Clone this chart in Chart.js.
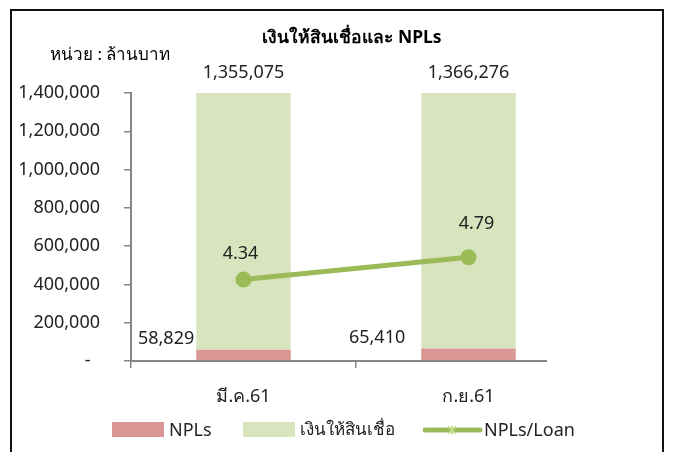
<!DOCTYPE html>
<html>
<head>
<meta charset="utf-8">
<script src="https://cdn.jsdelivr.net/npm/chart.js@4.4.1/dist/chart.umd.min.js"></script>
<style>
  html, body { margin: 0; padding: 0; background: #fff; overflow: hidden; }
  #wrap { position: relative; width: 673px; height: 452px; }
  #frame { position: absolute; left: 10px; top: 9px; width: 650px; height: 460px; border: 2px solid #111; }
  #chart { position: absolute; left: 0; top: 0; }
  .lg { position: absolute; font: 18px 'Noto Sans', sans-serif; color: #222; line-height: 20px; white-space: nowrap; }
  .sw { position: absolute; width: 52px; height: 15px; }
</style>
</head>
<body>
<div id="wrap">
  <div id="frame"></div>
  <canvas id="chart" width="673" height="452"></canvas>
  <div class="sw" style="left:112px;top:422px;background:#d99694"></div>
  <div class="lg" style="left:169px;top:419px">NPLs</div>
  <div class="sw" style="left:243px;top:422px;background:#d7e4bd"></div>
  <div class="lg" style="left:300px;top:419px;font-size:17px">เงินให้สินเชื่อ</div>
  <svg style="position:absolute;left:423px;top:422px" width="60" height="16">
    <line x1="2" y1="8" x2="57" y2="8" stroke="#9bbb59" stroke-width="5" stroke-linecap="round"/>
    <path d="M25 4 L33 12 M33 4 L25 12 M29 3 L29 13" stroke="#c6e08f" stroke-width="1.3"/>
  </svg>
  <div class="lg" style="left:484px;top:419px">NPLs/Loan</div>
</div>
<script>
const PINK = '#d99694';
const LIGHT_GREEN = '#d7e4bd';
const LINE_GREEN = '#9bbb59';
const AXIS = '#868686';
const FONT = "'Noto Sans', sans-serif";

const periods = ['มี.ค.61', 'ก.ย.61'];
const npls = [58829, 65410];
const loans = [1355075, 1366276];
const nplRatio = [4.34, 4.79];
const yTicks = [0, 200000, 400000, 600000, 800000, 1000000, 1200000, 1400000];

// label nudges (px), Excel placed these by hand
const nplLabelGap = [2, 16];
const ratioLabelShift = [[-3, -26], [8, -33]];

const fmt = v => v.toLocaleString('en-US');

const textPlugin = {
  id: 'texts',
  afterDraw(chart) {
    const ctx = chart.ctx;
    const area = chart.chartArea;
    ctx.save();
    ctx.fillStyle = '#000';
    ctx.textBaseline = 'middle';

    ctx.font = `bold 17.5px ${FONT}`;
    ctx.textAlign = 'center';
    ctx.fillText('เงินให้สินเชื่อและ NPLs', 352, 38);

    ctx.font = `17px ${FONT}`;
    ctx.textAlign = 'left';
    ctx.fillText('หน่วย : ล้านบาท', 50, 55);

    // x axis line stops short of the last category edge
    ctx.strokeStyle = AXIS;
    ctx.lineWidth = 2;
    ctx.beginPath();
    ctx.moveTo(area.left, area.bottom);
    ctx.lineTo(area.right - 34, area.bottom);
    ctx.stroke();

    ctx.fillStyle = '#222';
    ctx.font = `18px ${FONT}`;

    chart.getDatasetMeta(1).data.forEach((bar, i) => {
      ctx.textAlign = 'center';
      ctx.fillText(fmt(loans[i]), bar.x, Math.max(bar.y, area.top) - 20);
    });
    chart.getDatasetMeta(0).data.forEach((bar, i) => {
      ctx.textAlign = 'right';
      ctx.fillText(fmt(npls[i]), bar.x - bar.width / 2 - nplLabelGap[i], bar.y - 11);
    });
    chart.getDatasetMeta(2).data.forEach((pt, i) => {
      ctx.textAlign = 'center';
      ctx.fillText(nplRatio[i].toFixed(2), pt.x + ratioLabelShift[i][0], pt.y + ratioLabelShift[i][1]);
    });
    ctx.restore();
  }
};

new Chart(document.getElementById('chart'), {
  data: {
    labels: periods,
    datasets: [
      { type: 'bar', label: 'NPLs', data: npls, backgroundColor: PINK, stack: 's', order: 2,
        categoryPercentage: 1, barPercentage: 0.42 },
      { type: 'bar', label: 'เงินให้สินเชื่อ', data: loans, backgroundColor: LIGHT_GREEN, stack: 's', order: 2,
        categoryPercentage: 1, barPercentage: 0.42 },
      { type: 'line', label: 'NPLs/Loan', data: nplRatio, yAxisID: 'y1', order: 0,
        borderColor: LINE_GREEN, borderWidth: 5, pointRadius: 5.5, pointHoverRadius: 5.5,
        pointBackgroundColor: LINE_GREEN, pointBorderColor: LINE_GREEN, tension: 0 },
    ],
  },
  options: {
    responsive: false,
    animation: false,
    layout: { padding: { left: 0, top: 93, right: 92, bottom: 0 } },
    plugins: { legend: { display: false }, tooltip: { enabled: false } },
    scales: {
      x: {
        stacked: true,
        afterFit: s => { s.height = 91; },
        border: { display: false },
        grid: {
          offset: true, drawOnChartArea: false, drawTicks: true, tickLength: 7, lineWidth: 1.5,
          color: c => (c.index < periods.length ? AXIS : 'rgba(0,0,0,0)'),
        },
        ticks: { color: '#222', font: { family: FONT, size: 18 }, padding: 18 },
      },
      y: {
        stacked: true,
        min: 0,
        max: 1400000,
        afterFit: s => { s.width = 131; },
        afterBuildTicks: s => { s.ticks = yTicks.map(v => ({ value: v })); },
        border: { color: AXIS, width: 2 },
        grid: { drawOnChartArea: false, drawTicks: true, tickLength: 7, color: AXIS, lineWidth: 1.5 },
        ticks: {
          color: '#222', font: { family: FONT, size: 18 }, padding: 24,
          callback: v => (v === 0 ? '-  ' : fmt(v)),
        },
      },
      y1: { display: false, min: 2.7, max: 8.1 },
    },
  },
  plugins: [textPlugin],
});
</script>
</body>
</html>
